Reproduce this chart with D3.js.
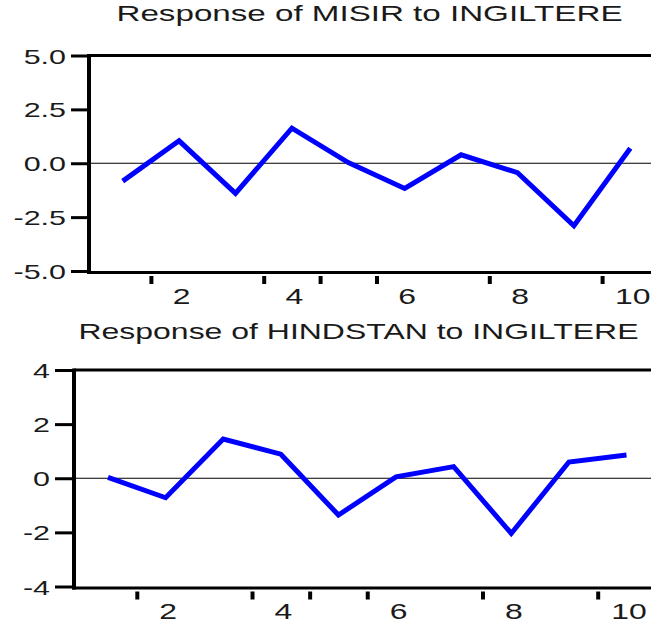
<!DOCTYPE html>
<html>
<head>
<meta charset="utf-8">
<script src="https://cdn.jsdelivr.net/npm/d3@7"></script>
<style>
  html, body { margin: 0; padding: 0; background: #fff; }
  svg { display: block; }
  text { font-family: "Liberation Sans", Arial, sans-serif; fill: #1a1a1a; }
</style>
</head>
<body>
<svg id="chart" width="651" height="625"></svg>
<script>
// ---- data ----
const periods = [1, 2, 3, 4, 5, 6, 7, 8, 9, 10];
const misirResponse = [-0.83, 1.04, -1.40, 1.63, 0.03, -1.17, 0.39, -0.44, -2.90, 0.70];
const hindstanResponse = [0.03, -0.72, 1.45, 0.89, -1.36, 0.05, 0.43, -2.04, 0.60, 0.86];
const xTickMarks = [1.5, 3.5, 4.5, 5.5, 7.5, 9.5];
const xTickLabels = [2, 4, 6, 8, 10];
const misirYTicks = [-5, -2.5, 0, 2.5, 5];
const hindstanYTicks = [-4, -2, 0, 2, 4];
const titles = ["Response of MISIR to INGILTERE", "Response of HINDSTAN to INGILTERE"];

const svg = d3.select("#chart");
const STRETCH = 1.45;
const hyphenate = f => d => f(d).replace("\u2212", "-");

function stretch(sel) {
  sel.each(function () {
    const len = this.getComputedTextLength();
    d3.select(this).attr("textLength", len * STRETCH).attr("lengthAdjust", "spacingAndGlyphs");
  });
}

function panel(cfg) {
  const g = svg.append("g");
  const x = d3.scaleLinear().domain([1, 10]).range([cfg.x1, cfg.x10]);
  const y = d3.scaleLinear().domain(cfg.yDomain).range([cfg.bottom, cfg.top]);
  const right = 670;

  // title
  g.append("text")
    .attr("x", cfg.titleX).attr("y", cfg.titleY)
    .attr("font-size", 22)
    .attr("textLength", cfg.titleW).attr("lengthAdjust", "spacingAndGlyphs")
    .text(cfg.title);

  // zero line
  g.append("line")
    .attr("x1", cfg.left).attr("x2", right)
    .attr("y1", y(0)).attr("y2", y(0))
    .attr("stroke", "#000").attr("stroke-width", 1.2);

  // frame: top + bottom
  g.append("line").attr("x1", cfg.left).attr("x2", right)
    .attr("y1", y(cfg.yDomain[1])).attr("y2", y(cfg.yDomain[1]))
    .attr("stroke", "#000").attr("stroke-width", 3);
  g.append("line").attr("x1", cfg.left - 2).attr("x2", right)
    .attr("y1", cfg.bottom + 1.5).attr("y2", cfg.bottom + 1.5)
    .attr("stroke", "#000").attr("stroke-width", 3);

  // y axis
  const yAxis = d3.axisLeft(y).tickValues(cfg.yTicks).tickSize(cfg.tickLen).tickPadding(5)
    .tickFormat(hyphenate(cfg.yFormat));
  const ya = g.append("g").attr("transform", `translate(${cfg.left},0)`).call(yAxis);
  ya.select(".domain").remove();
  ya.selectAll(".tick line").attr("stroke", "#000").attr("stroke-width", 3);
  ya.selectAll(".tick text").attr("font-size", 21).attr("fill", "#1a1a1a")
    .attr("font-family", "Liberation Sans, Arial, sans-serif")
    .attr("dy", "0.36em").call(stretch);
  g.append("line").attr("x1", cfg.left).attr("x2", cfg.left)
    .attr("y1", y(cfg.yDomain[1]) - 1.5).attr("y2", cfg.bottom + 3)
    .attr("stroke", "#000").attr("stroke-width", 4);

  // x tick marks (detached from axis line)
  const xMarks = d3.axisBottom(x).tickValues(xTickMarks).tickSize(8).tickFormat("");
  const xm = g.append("g").attr("transform", `translate(0,${cfg.bottom + 5})`).call(xMarks);
  xm.select(".domain").remove();
  xm.selectAll(".tick line").attr("stroke", "#000").attr("stroke-width", 4);

  // x labels
  const xLab = d3.axisBottom(x).tickValues(xTickLabels).tickSize(0).tickPadding(0).tickFormat(d3.format("d"));
  const xl = g.append("g").attr("transform", `translate(2,${cfg.bottom + 17})`).call(xLab);
  xl.select(".domain").remove();
  xl.selectAll(".tick text").attr("font-size", 22).attr("fill", "#1a1a1a")
    .attr("font-family", "Liberation Sans, Arial, sans-serif")
    .attr("dy", "0.72em").call(stretch);

  // response line
  const line = d3.line().x((d, i) => x(periods[i])).y(d => y(d));
  g.append("path").datum(cfg.values)
    .attr("d", line)
    .attr("fill", "none").attr("stroke", "#0000ff")
    .attr("stroke-width", 5).attr("stroke-linejoin", "miter");
}

panel({
  title: titles[0], titleX: 116.5, titleY: 21, titleW: 506,
  left: 89, top: 55.5, bottom: 271, x1: 122.7, x10: 630.3,
  yDomain: [-5, 5], yTicks: misirYTicks, tickLen: 18, yFormat: d3.format(".1f"),
  values: misirResponse
});

panel({
  title: titles[1], titleX: 78.5, titleY: 338.5, titleW: 560,
  left: 74, top: 370, bottom: 586.5, x1: 108, x10: 626.5,
  yDomain: [-4, 4], yTicks: hindstanYTicks, tickLen: 19, yFormat: d3.format("d"),
  values: hindstanResponse
});
</script>
</body>
</html>
